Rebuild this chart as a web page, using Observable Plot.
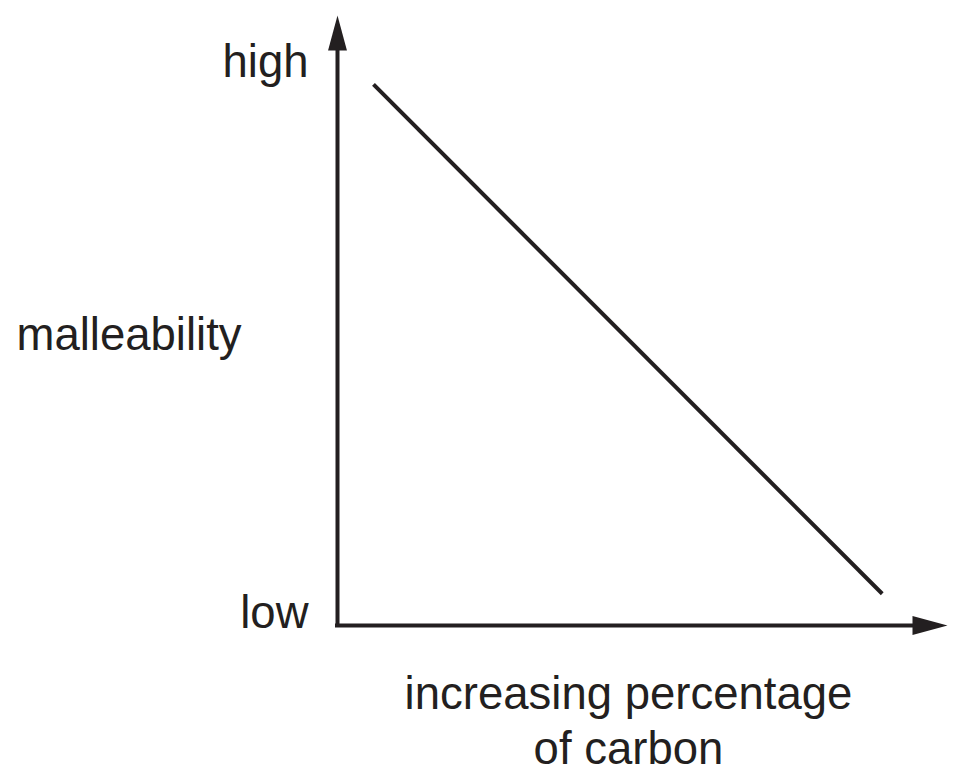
<!DOCTYPE html>
<html>
<head>
<meta charset="utf-8">
<script src="https://cdn.jsdelivr.net/npm/d3@7"></script>
<script src="https://cdn.jsdelivr.net/npm/@observablehq/plot@0.6"></script>
<style>
  html, body { margin: 0; padding: 0; background: #ffffff; }
  #chart svg { display: block; }
</style>
</head>
<body>
<div id="chart"></div>
<script>
// Data: conceptual trend of malleability vs carbon percentage (0–100 arbitrary units)
const carbon = [5.9, 89.3];
const malleability = [88.7, 5.2];

// Axis end values and labels
const axisMax = 100;
const arrowBase = 94.3;
const yTickValues = [0, 90.2];
const yTickLabels = ["low", "high"];
const yTitle = "malleability";
const yTitlePos = 45.1;
const xTitle = "increasing percentage\nof carbon";
const xTitlePos = 47.7;

const ink = "#231f20";
const font = "'Liberation Sans', Arial, Helvetica, sans-serif";

const lineData = carbon.map((c, i) => ({carbon: c, malleability: malleability[i]}));
const yTicks = yTickValues.map((v, i) => ({value: v, label: yTickLabels[i]}));

// Narrow filled arrowhead: tip at origin, base below
const arrowHead = {
  draw(context, size) {
    const r = Math.sqrt(size / Math.PI);
    context.moveTo(0, 0);
    context.lineTo(r * 0.27, r);
    context.lineTo(-r * 0.27, r);
    context.closePath();
  }
};

const chart = Plot.plot({
  width: 963,
  height: 782,
  marginLeft: 337,
  marginRight: 16,
  marginTop: 15,
  marginBottom: 157,
  x: {domain: [0, axisMax], axis: null},
  y: {domain: [0, axisMax], axis: null},
  style: {fontFamily: font, background: "#ffffff", overflow: "visible"},
  marks: [
    // axes
    Plot.ruleX([0], {y1: 0, y2: arrowBase, stroke: ink, strokeWidth: 4, strokeLinecap: "square"}),
    Plot.ruleY([0], {x1: 0, x2: arrowBase, stroke: ink, strokeWidth: 4, strokeLinecap: "square"}),
    Plot.dot([{x: 0, y: axisMax}], {x: "x", y: "y", r: 35, symbol: arrowHead, fill: ink, stroke: "none"}),
    Plot.dot([{x: axisMax, y: 0}], {x: "x", y: "y", r: 35, symbol: arrowHead, rotate: 90, fill: ink, stroke: "none"}),
    // trend line
    Plot.line(lineData, {x: "carbon", y: "malleability", stroke: ink, strokeWidth: 4, strokeLinecap: "butt"}),
    // y tick labels
    Plot.text(yTicks, {x: 0, y: "value", text: "label", textAnchor: "end", lineAnchor: "bottom",
      dx: -29, dy: 2, fontSize: 45.5, fill: ink}),
    // y title
    Plot.text([yTitle], {x: 0, y: yTitlePos, text: d => d, textAnchor: "start", lineAnchor: "bottom",
      dx: -321, fontSize: 45.5, fill: ink}),
    // x title
    Plot.text([xTitle], {x: xTitlePos, y: 0, text: d => d, textAnchor: "middle", lineAnchor: "bottom",
      dy: 138, lineHeight: 1.19, fontSize: 45.5, fill: ink})
  ]
});

document.getElementById("chart").appendChild(chart);
</script>
</body>
</html>
